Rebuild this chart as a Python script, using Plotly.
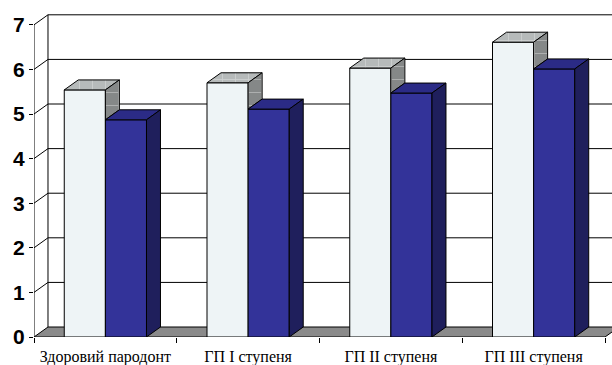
import plotly.graph_objects as go

categories = ["Здоровий пародонт", "ГП I ступеня", "ГП II ступеня", "ГП III ступеня"]
series1 = [5.54, 5.70, 6.03, 6.61]
series2 = [4.87, 5.11, 5.47, 6.01]
y_ticks = [0, 1, 2, 3, 4, 5, 6, 7]

# geometry (data units)
W = 0.288          # width of one bar in category units
DX = 0.098         # depth offset in x (category units)
DY = 0.224         # depth offset in y (value units)
X_MIN = -0.5
X_MAX = -0.5 + 578 / 142.75
Y_MAX = 329 / 44.6
N = len(categories)
xs = list(range(N))

fig = go.Figure()

# front faces
fig.add_trace(go.Bar(x=xs, y=series1, width=W, offset=-W, name="Серія 1",
                     marker=dict(color="#eef4f6", line=dict(color="black", width=1))))
fig.add_trace(go.Bar(x=xs, y=series2, width=W, offset=0, name="Серія 2",
                     marker=dict(color="#333399", line=dict(color="black", width=1))))

def poly_trace(polys, color, pattern=None):
    px, py = [], []
    for p in polys:
        for (a, b) in p + [p[0]]:
            px.append(a); py.append(b)
        px.append(None); py.append(None)
    kw = {}
    if pattern:
        kw["fillpattern"] = pattern
    return go.Scatter(x=px, y=py, mode="lines", fill="toself", fillcolor=color,
                      line=dict(color="black", width=1), hoverinfo="skip",
                      showlegend=False, **kw)

light_top, light_side, dark_top, dark_side = [], [], [], []
for i, (a, b) in enumerate(zip(series1, series2)):
    light_top.append([(i - W, a), (i, a), (i + DX, a + DY), (i - W + DX, a + DY)])
    light_side.append([(i, a), (i + DX, a + DY), (i + DX, b + DY), (i, b)])
    dark_top.append([(i, b), (i + W, b), (i + W + DX, b + DY), (i + DX, b + DY)])
    dark_side.append([(i + W, 0), (i + W, b), (i + W + DX, b + DY), (i + W + DX, DY)])

pat = dict(shape="+", fgcolor="#e8e8e8", size=13, solidity=0.12, fillmode="overlay")
fig.add_trace(poly_trace(light_top, "#b6baba", pat))
fig.add_trace(poly_trace(light_side, "#858888", pat))
fig.add_trace(poly_trace(dark_top, "#2b2b86"))
fig.add_trace(poly_trace(dark_side, "#1f1f5c"))

shapes = []
# floor
shapes.append(dict(type="path", xref="x", yref="y", layer="below",
                   path=f"M {X_MIN},0 L {X_MIN + DX},{DY} L {N - 0.5 + DX},{DY} L {N - 0.5},0 Z",
                   fillcolor="#8a8a8a", line=dict(color="black", width=1)))
# back wall gridlines and left wall
for k in y_ticks[1:]:
    shapes.append(dict(type="line", xref="x", yref="y", layer="below",
                       x0=X_MIN + DX, y0=k + DY, x1=X_MAX, y1=k + DY,
                       line=dict(color="black", width=1)))
    shapes.append(dict(type="line", xref="x", yref="y", layer="below",
                       x0=X_MIN, y0=k, x1=X_MIN + DX, y1=k + DY,
                       line=dict(color="black", width=1)))
shapes.append(dict(type="line", xref="x", yref="y", layer="below",
                   x0=X_MIN + DX, y0=DY, x1=X_MIN + DX, y1=y_ticks[-1] + DY,
                   line=dict(color="black", width=1)))
shapes.append(dict(type="line", xref="x", yref="y", layer="below",
                   x0=X_MIN, y0=0, x1=X_MIN, y1=y_ticks[-1],
                   line=dict(color="black", width=1)))

fig.update_layout(
    width=612, height=365,
    margin=dict(l=34, r=0, t=8, b=28),
    paper_bgcolor="white", plot_bgcolor="white",
    barmode="overlay", showlegend=False,
    shapes=shapes,
    xaxis=dict(range=[X_MIN, X_MAX], tickvals=xs, ticktext=categories,
               showgrid=False, zeroline=False, showline=False, ticks="",
               ticklabelstandoff=8,
               tickfont=dict(family="'Liberation Serif', 'DejaVu Serif', serif", size=16, color="black"),
               minor=dict(tickvals=[i - 0.5 for i in range(N + 1)], ticks="outside",
                          ticklen=5, tickcolor="black", tickwidth=1, showgrid=False),
               fixedrange=True),
    yaxis=dict(range=[0, Y_MAX], tickvals=y_ticks, showgrid=False, zeroline=False,
               showline=False, ticks="outside", ticklen=4, tickcolor="black",
               tickfont=dict(family="'Liberation Sans', Arial, sans-serif", size=21, color="black", weight="bold"),
               fixedrange=True),
)

fig.write_html("out.html")
